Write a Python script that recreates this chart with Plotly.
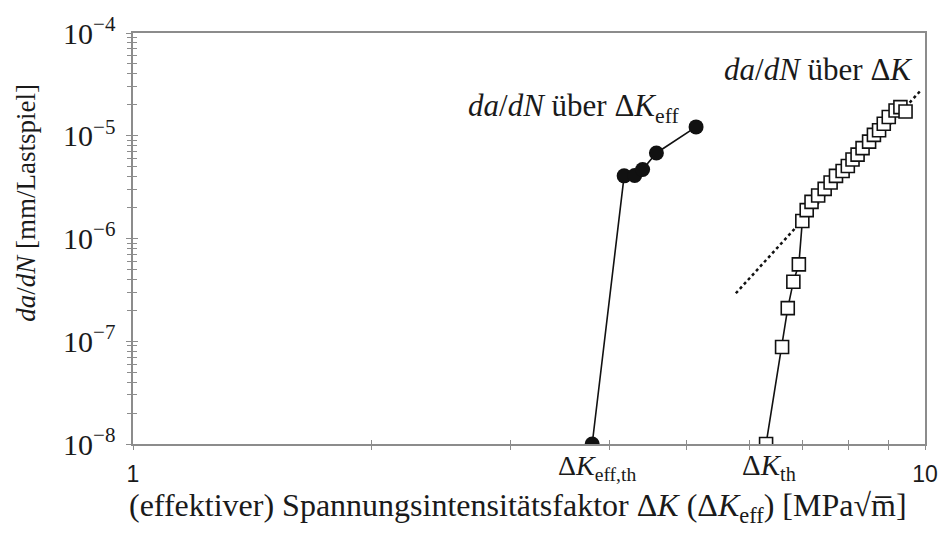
import plotly.graph_objects as go

# ΔK_eff series (filled circles)
eff_x = [3.80, 4.17, 4.30, 4.40, 4.58, 5.14]
eff_y = [1.0e-8, 4.07e-6, 4.1e-6, 4.7e-6, 6.8e-6, 1.22e-5]

# ΔK series (open squares)
dk_x = [6.30, 6.60, 6.71, 6.82, 6.93, 7.00, 7.09, 7.19, 7.33, 7.47, 7.60, 7.72,
        7.87, 7.99, 8.10, 8.22, 8.34, 8.50, 8.62, 8.75, 8.87, 9.00, 9.18, 9.31, 9.45]
dk_y = [1.0e-8, 8.8e-8, 2.1e-7, 3.8e-7, 5.6e-7, 1.48e-6, 1.89e-6, 2.27e-6, 2.62e-6,
        3.04e-6, 3.51e-6, 4.07e-6, 4.54e-6, 5.07e-6, 5.87e-6, 6.55e-6, 7.57e-6,
        8.77e-6, 1.02e-5, 1.13e-5, 1.31e-5, 1.52e-5, 1.76e-5, 1.90e-5, 1.72e-5]

# Paris-law fit (dotted)
fit_x = [5.77, 9.86]
fit_y = [2.93e-7, 2.72e-5]

x_range_log = [0, 1]
y_range_log = [-8, -4]

SERIF = "Liberation Serif"
SANS = "Liberation Sans"
AX = "#8c8c8c"
TXT = "#1a1a1a"

fig = go.Figure()

fig.add_trace(go.Scatter(x=fit_x, y=fit_y, mode="lines",
                         line=dict(color="#111", width=2.5, dash="dot"),
                         showlegend=False, hoverinfo="skip"))
fig.add_trace(go.Scatter(x=eff_x, y=eff_y, mode="lines+markers",
                         line=dict(color="#111", width=1.6),
                         marker=dict(symbol="circle", size=15, color="#111"),
                         showlegend=False))
fig.add_trace(go.Scatter(x=dk_x, y=dk_y, mode="lines+markers",
                         line=dict(color="#111", width=1.6),
                         marker=dict(symbol="square", size=13, color="white",
                                     line=dict(color="#111", width=1.6)),
                         showlegend=False))
# dummy trace for the overlay (inside-tick) axes
fig.add_trace(go.Scatter(x=[], y=[], xaxis="x2", yaxis="y2", showlegend=False))

minor_out = dict(dtick="D1", ticks="outside", ticklen=4, tickcolor=AX, tickwidth=1, showgrid=False)
minor_in = dict(dtick="D1", ticks="inside", ticklen=4, tickcolor=AX, tickwidth=1, showgrid=False)

fig.update_layout(
    width=950, height=539,
    margin=dict(l=133, r=15, t=23, b=95),
    paper_bgcolor="white", plot_bgcolor="white",
    xaxis=dict(type="log", range=x_range_log, showgrid=False, zeroline=False,
               showline=True, linecolor=AX, linewidth=1.5, mirror=True,
               tickmode="linear", tick0=0, dtick=1,
               ticks="outside", ticklen=4, tickcolor=AX, tickwidth=1,
               minor=minor_out, ticklabelstandoff=5,
               tickfont=dict(family=SANS, size=23, color=TXT)),
    yaxis=dict(type="log", range=y_range_log, showgrid=False, zeroline=False,
               showline=True, linecolor=AX, linewidth=1.5, mirror=True,
               tickmode="linear", tick0=0, dtick=1, exponentformat="power",
               ticks="outside", ticklen=5, tickcolor=AX, tickwidth=1,
               minor=minor_out, ticklabelstandoff=6,
               tickfont=dict(family=SERIF, size=24, color=TXT)),
    xaxis2=dict(type="log", range=x_range_log, overlaying="x", anchor="y", side="bottom",
                showgrid=False, zeroline=False, showline=False, showticklabels=False,
                tickmode="linear", tick0=0, dtick=1,
                ticks="inside", ticklen=4, tickcolor=AX, tickwidth=1, minor=minor_in),
    yaxis2=dict(type="log", range=y_range_log, overlaying="y", anchor="x", side="left",
                showgrid=False, zeroline=False, showline=False, showticklabels=False,
                tickmode="linear", tick0=0, dtick=1,
                ticks="inside", ticklen=5, tickcolor=AX, tickwidth=1, minor=minor_in),
)

annotations = [
    dict(text="<i>da</i>/<i>dN</i> über Δ<i>K</i><sub>eff</sub>", x=0.420, y=0.818,
         xanchor="left", yanchor="middle", size=31),
    dict(text="<i>da</i>/<i>dN</i> über Δ<i>K</i>", x=0.744, y=0.910,
         xanchor="left", yanchor="middle", size=31),
    dict(text="Δ<i>K</i><sub>eff,th</sub>", x=0.534, y=-0.057,
         xanchor="left", yanchor="middle", size=28),
    dict(text="Δ<i>K</i><sub>th</sub>", x=0.766, y=-0.057,
         xanchor="left", yanchor="middle", size=29),
    dict(text="(effektiver) Spannungsintensitätsfaktor Δ<i>K</i> (Δ<i>K</i><sub>eff</sub>) "
              "[MPa√m\u0305]",
         x=0.486, y=-0.155, xanchor="center", yanchor="middle", size=32),
    dict(text="<i>da</i>/<i>dN</i> [mm/Lastspiel]", x=-0.135, y=0.587, textangle=-90,
         xanchor="center", yanchor="middle", size=27),
]
for a in annotations:
    sz = a.pop("size")
    fig.add_annotation(xref="paper", yref="paper", showarrow=False,
                       font=dict(family=SERIF, size=sz, color=TXT), **a)

fig.write_html("out.html")
